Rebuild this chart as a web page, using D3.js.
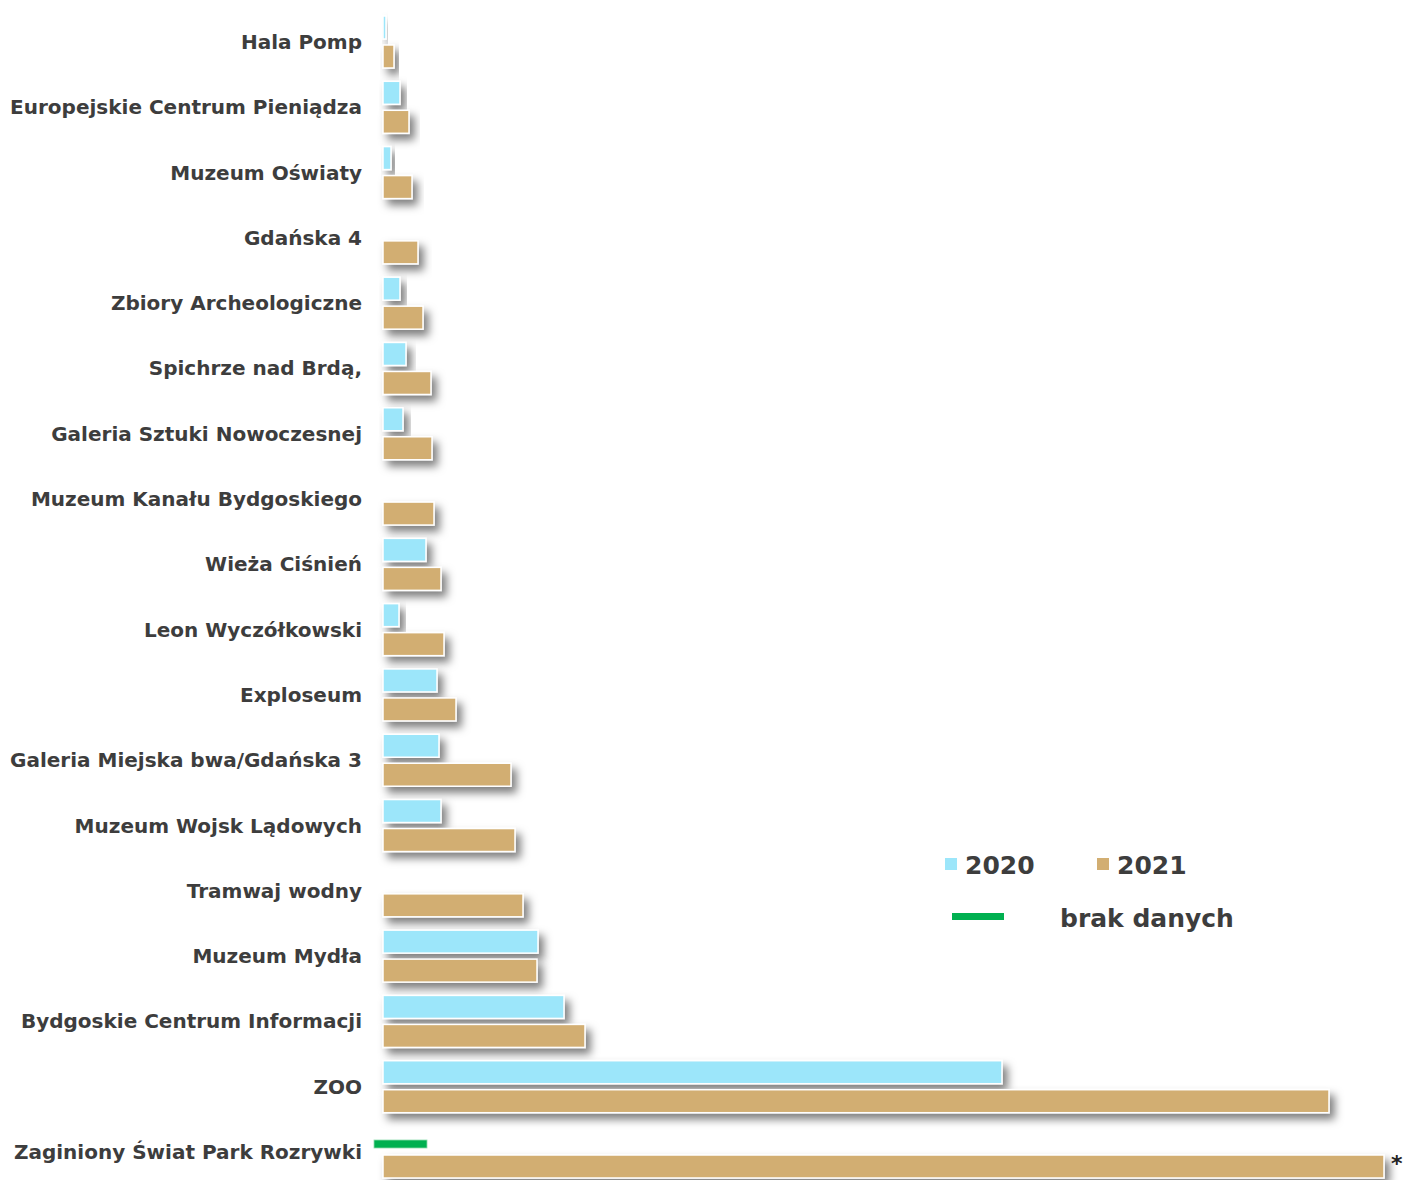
<!DOCTYPE html>
<html><head><meta charset="utf-8">
<script src="https://cdn.jsdelivr.net/npm/d3@7"></script>
<style>html,body{margin:0;padding:0;background:#fff;}svg{display:block;}</style>
</head><body>
<script>
const categories = ["Hala Pomp","Europejskie Centrum Pieniądza","Muzeum Oświaty","Gdańska 4","Zbiory Archeologiczne","Spichrze nad Brdą,","Galeria Sztuki Nowoczesnej","Muzeum Kanału Bydgoskiego","Wieża Ciśnień","Leon Wyczółkowski","Exploseum","Galeria Miejska bwa/Gdańska 3","Muzeum Wojsk Lądowych","Tramwaj wodny","Muzeum Mydła","Bydgoskie Centrum Informacji","ZOO","Zaginiony Świat Park Rozrywki"];
const values2020 = [3,17,8,null,17,23,20,null,43,16,54,56,58,null,155,181,619,null];
const values2021 = [11,26,29,35,40,48,49,51,58,61,73,128,132,140,154,202,946,1001];
const seriesNames = ["2020","2021"];
const noDataCategories = ["Zaginiony Świat Park Rozrywki"];
const noDataLabel = "brak danych";
const starredCategories = ["Zaginiony Świat Park Rozrywki"];

const W = 1405, H = 1180;
const colors = {"2020":"#9ce6fa","2021":"#d2ae72"};
const green = "#00b050";
const textColor = "#3d3d3d";
const FONT = "'DejaVu Sans', sans-serif";

const svg = d3.select("body").append("svg").attr("width",W).attr("height",H);
const defs = svg.append("defs");
const f = defs.append("filter").attr("id","sh").attr("x","-20%").attr("y","-60%").attr("width","160%").attr("height","270%");
f.append("feDropShadow").attr("dx",5).attr("dy",6).attr("stdDeviation",4).attr("flood-color","#000").attr("flood-opacity",0.5);

const x0 = 383;
const x = d3.scaleLinear().domain([0,1001]).range([x0, 1384]);
const y = d3.scaleBand().domain(categories).range([9.35, 1184.65]).paddingInner(0).paddingOuter(0);
const yi = d3.scaleBand().domain(seriesNames).range([6.65, 58.65]).paddingInner(6/29);

const rows = categories.map((c,i)=>({c, v:{"2020":values2020[i],"2021":values2021[i]}}));

const g = svg.append("g");
rows.forEach(r=>{
  seriesNames.forEach(s=>{
    const v = r.v[s];
    if (v==null) return;
    g.append("rect")
      .attr("x", x(0)).attr("y", y(r.c)+yi(s))
      .attr("width", x(v)-x(0)).attr("height", yi.bandwidth())
      .attr("fill", colors[s]).attr("stroke","#fff").attr("stroke-width",1.5)
      .attr("filter","url(#sh)");
  });
});

// no data markers
noDataCategories.forEach(c=>{
  g.append("rect").attr("x",374).attr("y", y(c)+yi("2020")+14).attr("width",53).attr("height",8)
   .attr("fill",green).attr("stroke","#8fdcae").attr("stroke-width",0.8);
});
starredCategories.forEach(c=>{
  const i = categories.indexOf(c);
  g.append("text").attr("x", x(values2021[i])+7).attr("y", y(c)+yi("2021")+yi.bandwidth()/2+4)
   .attr("font-family",FONT).attr("font-weight","bold").attr("font-size",22).attr("fill","#222").text("*");
});

// labels
const labels = svg.append("g").attr("font-family",FONT).attr("font-weight","bold").attr("fill",textColor).attr("text-anchor","end");
const lbl = labels.selectAll("text").data(categories).join("text")
  .attr("x",362).attr("y",d=>y(d)+y.bandwidth()/2).attr("dy","0.35em")
  .attr("font-size",20).text(d=>d);
const ref = lbl.filter(d=>d==="Europejskie Centrum Pieniądza").node();
const wlen = ref.getComputedTextLength();
const fs = 20*352/wlen;
lbl.attr("font-size",fs);

// legend
const lg = svg.append("g").attr("font-family",FONT).attr("font-weight","bold").attr("fill",textColor);
const legendItems = [{s:"2020",sx:945,tx:965},{s:"2021",sx:1097,tx:1117}];
legendItems.forEach(it=>{
  lg.append("rect").attr("x",it.sx).attr("y",858).attr("width",12).attr("height",12).attr("fill",colors[it.s]);
  lg.append("text").attr("x",it.tx).attr("y",874).attr("font-size",fs*1.25).text(it.s);
});
lg.append("rect").attr("x",952).attr("y",913).attr("width",52).attr("height",7).attr("fill",green);
lg.append("text").attr("x",1060).attr("y",927).attr("font-size",fs*1.25).text(noDataLabel);
</script>
</body></html>
